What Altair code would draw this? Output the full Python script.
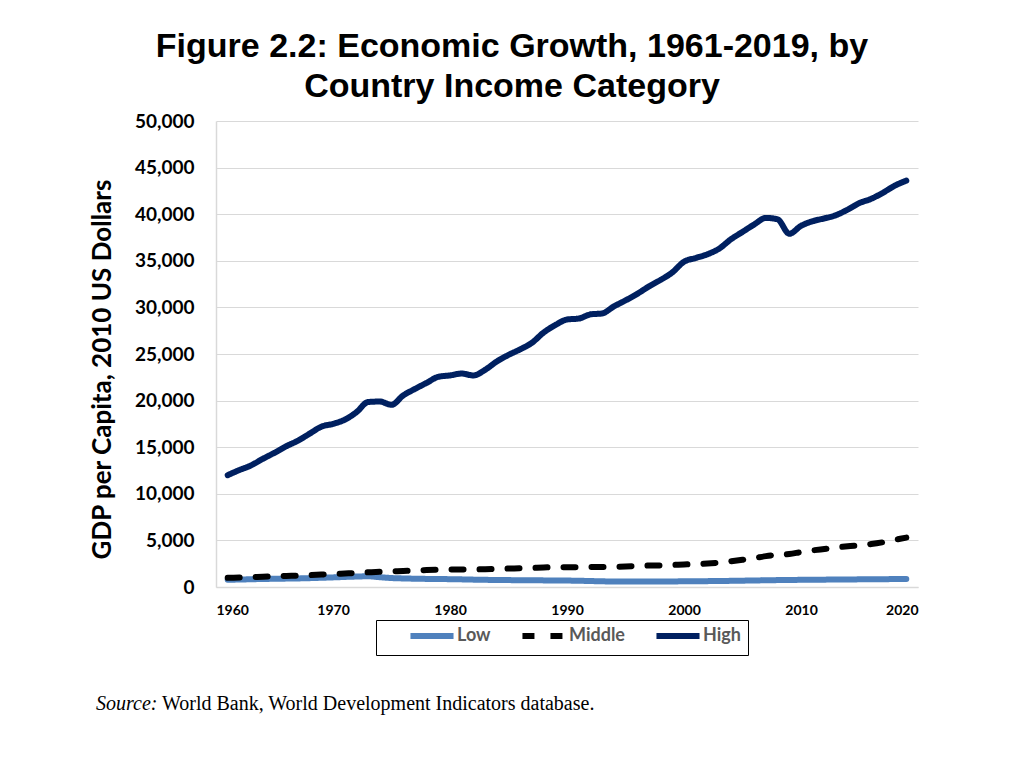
import pandas as pd
import altair as alt

years = list(range(1961, 2020))

low = [780, 800, 830, 860, 880, 900, 920, 950, 990, 1030,
       1080, 1120, 1150, 1050, 960, 920, 890, 870, 860, 840,
       820, 790, 770, 750, 740, 730, 720, 710, 700, 690,
       670, 640, 610, 590, 590, 600, 600, 600, 600, 610,
       620, 630, 640, 660, 680, 700, 720, 740, 750, 770,
       780, 790, 800, 810, 820, 830, 840, 850, 860]

middle = [980, 1020, 1060, 1110, 1150, 1190, 1220, 1270, 1330, 1400,
          1450, 1500, 1580, 1630, 1680, 1720, 1770, 1820, 1860, 1880,
          1890, 1890, 1900, 1940, 1980, 2010, 2050, 2100, 2120, 2130,
          2130, 2140, 2150, 2170, 2200, 2250, 2300, 2320, 2360, 2420,
          2460, 2520, 2620, 2760, 2920, 3100, 3310, 3460, 3530, 3750,
          3930, 4080, 4230, 4370, 4480, 4610, 4800, 5050, 5300]

high = [12000, 12550, 13050, 13750, 14400, 15100, 15700, 16450, 17200, 17500,
        17950, 18750, 19850, 19900, 19550, 20550, 21250, 21900, 22550, 22700,
        22900, 22700, 23300, 24200, 24900, 25500, 26200, 27300, 28100, 28700,
        28800, 29250, 29350, 30100, 30750, 31450, 32250, 32950, 33750, 34900,
        35300, 35700, 36300, 37300, 38100, 38900, 39600, 39450, 37900, 38750,
        39250, 39550, 39900, 40500, 41200, 41650, 42300, 43050, 43600]

series_names = ['Low', 'Middle', 'High']
series_colors = ['#4f81bd', '#000000', '#002060']
series_dash = [[1, 0], [12, 16], [1, 0]]

x_ticks = [1960, 1970, 1980, 1990, 2000, 2010, 2020]
y_ticks = [0, 5000, 10000, 15000, 20000, 25000, 30000, 35000, 40000, 45000, 50000]

title_lines = ['Figure 2.2: Economic Growth, 1961-2019, by', 'Country Income Category']
y_title = 'GDP per Capita, 2010 US Dollars'
source_label = 'Source:'
source_text = 'World Bank, World Development Indicators database.'

rows = []
for name, vals in zip(series_names, [low, middle, high]):
    for yr, v in zip(years, vals):
        rows.append({'year': yr, 'value': v, 'series': name})
df = pd.DataFrame(rows)

axis_font = 'Lato'

# legend symbol is a long horizontal stroke, drawn wider than its layout box,
# so symbolOffset / labelOffset push things back into place
lines = alt.Chart(df).mark_line(strokeWidth=6, strokeCap='round', interpolate='monotone').encode(
    x=alt.X('year:Q',
            scale=alt.Scale(domain=[1960, 2020], nice=False),
            axis=alt.Axis(title=None, values=x_ticks, format='d', grid=False,
                          ticks=False, labelPadding=16, labelFont=axis_font,
                          labelFontSize=14, labelFontWeight='bold', labelColor='#000000',
                          domainColor='#d9d9d9', domainWidth=1.5)),
    y=alt.Y('value:Q',
            scale=alt.Scale(domain=[0, 50000], nice=False),
            axis=alt.Axis(title=y_title, values=y_ticks, format=',d', ticks=False,
                          labelPadding=22, labelFont=axis_font, labelFontSize=19,
                          labelFontWeight='bold', labelColor='#000000',
                          titleFont=axis_font, titleFontSize=26, titleFontWeight='bold',
                          titleColor='#000000', titlePadding=19, titleY=248,
                          gridColor='#d9d9d9', gridWidth=1.2,
                          domainColor='#d9d9d9', domainWidth=1.5)),
    color=alt.Color('series:N',
                    scale=alt.Scale(domain=series_names, range=series_colors),
                    legend=alt.Legend(title=None, orient='none', direction='horizontal',
                                      legendX=160, legendY=499,
                                      symbolType='M-4,0H4', symbolSize=116,
                                      symbolStrokeWidth=6, symbolOffset=40,
                                      labelOffset=16, columnPadding=4, padding=7,
                                      labelFont=axis_font, labelFontSize=18,
                                      labelFontWeight='bold', labelColor='#595959',
                                      strokeColor='#000000', fillColor='#ffffff')),
    strokeDash=alt.StrokeDash('series:N',
                              scale=alt.Scale(domain=series_names, range=series_dash),
                              legend=None),
    order=alt.Order('year:Q')
)

src_df = pd.DataFrame({'label': [source_label], 'text': [source_text]})

src_italic = alt.Chart(src_df).mark_text(
    font='Liberation Serif', fontSize=20, fontStyle='italic', align='left', baseline='alphabetic'
).encode(x=alt.value(-120), y=alt.value(589), text='label:N')

src_plain = alt.Chart(src_df).mark_text(
    font='Liberation Serif', fontSize=20, align='left', baseline='alphabetic'
).encode(x=alt.value(-54), y=alt.value(589), text='text:N')

chart = alt.layer(lines, src_italic, src_plain).properties(
    width=702,
    height=466,
    title=alt.TitleParams(text=title_lines, font='Liberation Sans', fontSize=34,
                          fontWeight='bold', color='#000000', lineHeight=40,
                          anchor='middle', dx=-55, offset=8),
    autosize=alt.AutoSizeParams(type='none'),
    padding={'left': 208, 'top': 113, 'right': 90, 'bottom': 170},
).configure_view(stroke=None)

chart.save('out.html', embed_options={'renderer': 'svg', 'actions': False})
